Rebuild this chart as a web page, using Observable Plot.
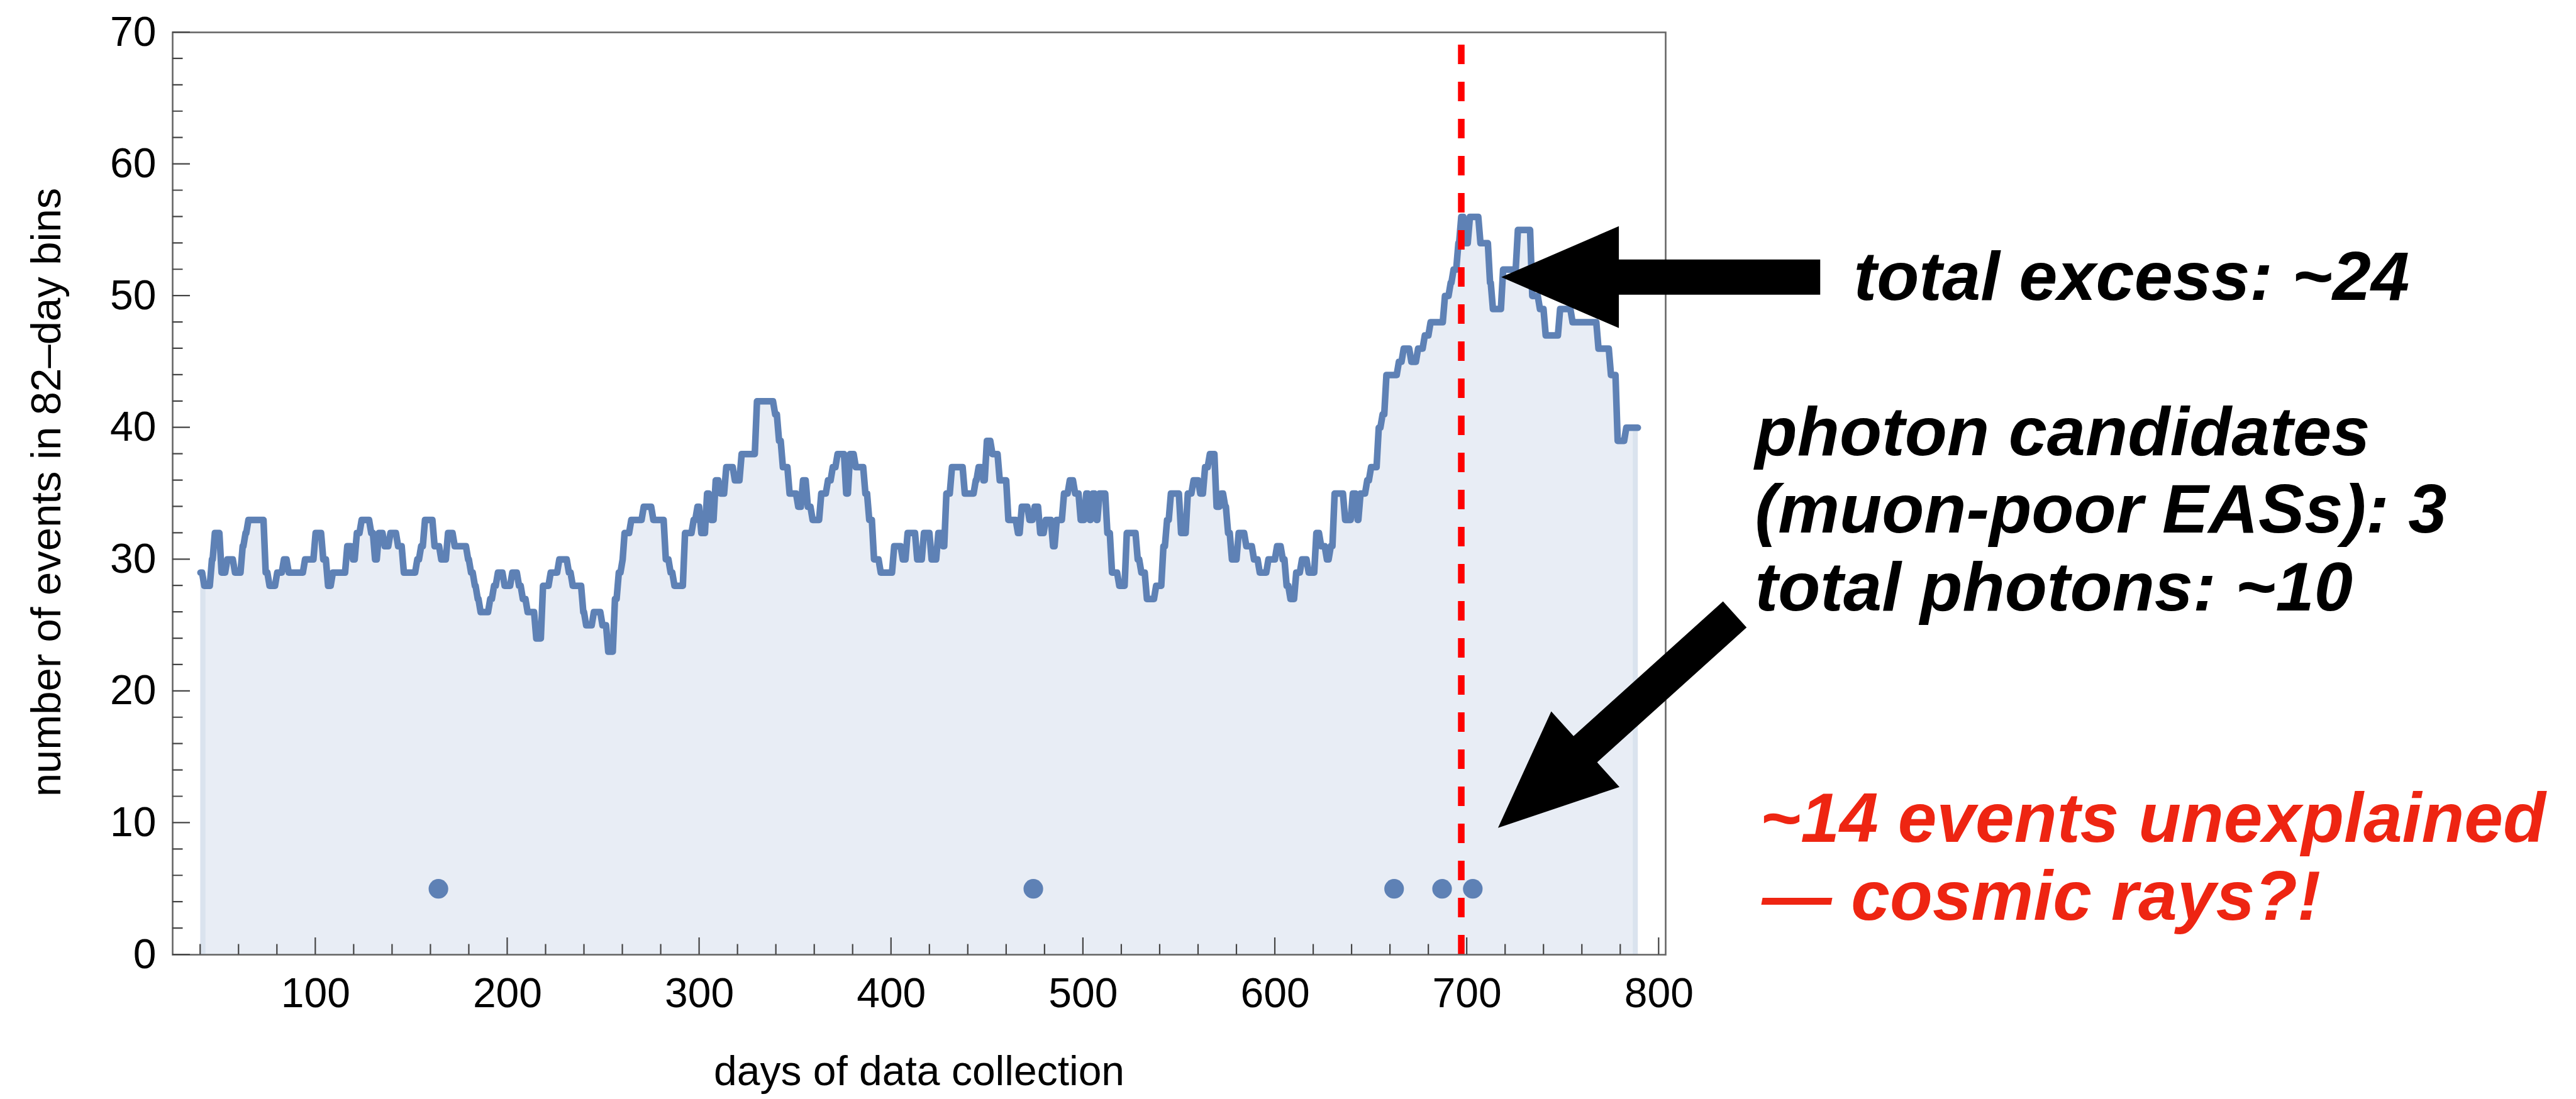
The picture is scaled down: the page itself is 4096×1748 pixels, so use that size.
<!DOCTYPE html>
<html>
<head>
<meta charset="utf-8">
<script src="https://cdn.jsdelivr.net/npm/d3@7"></script>
<script src="https://cdn.jsdelivr.net/npm/@observablehq/plot@0.6"></script>
<style>
  html, body { margin: 0; padding: 0; background: #fff; overflow: hidden; }
  #chart { width: 4096px; height: 1748px; }
</style>
</head>
<body>
<div id="chart"></div>
<script>
// ---------------- data ----------------
// start day of each run of the 82-day-bin event count, and the count during that run
const runDays = [
  40,42,46,47.5,51,54,58,62,63.5,65,74,76,80,83.5,86,94.5,100,104,106.5,109,116.5,119.5,121.5,124,129,131,133,136,139,143,146,153,155,157,
  162,165.5,169,172.5,179.5,181,183,184.5,186,191,193,195,198.5,202.5,206,208,210.5,215,218.5,222.5,227,232,234,239.5,241,245,249.5,252.5,256,258,260,261,264.5,271,276,282.5,285,287,
  292.5,297,299,301,304,306,308.5,311,314,318.5,322,330,339.5,341.5,343.5,347,351.5,354,356.5,359,363.5,367,369.5,372,376.5,378.5,381.5,386.5,388.5,391,394.5,401.5,406,408.5,413.5,417,
  421,424.5,427,428.7,431.6,438.3,444,445.5,448,449.8,452.7,456.5,461,466,468,472,474.7,477.6,480.5,484.3,486.2,490,493,495.8,498.7,501.6,503.5,505,507,508.5,512.6,515,518.8,522.7,528.4,530.3,533.2,538,541.8,543.7,545.7,
  551,554.5,557.5,561,563.5,566,569.5,572,574,575.5,577.5,581,585,589,592,596.5,601,604,606,608,611,614,617.5,621.5,624,627,629,631,636.5,640.5,643,644.5,648,650,654,656,658,664.5,667,671,674.5,678,681,688.5,691.5,693,695.5,697,699.2,701.5,707,712,713.5,718.8,726.5,734,738,741,748.5,755,768.5,775,778.5,783,789
];
const runCounts = [
  29,28,30,32,29,30,29,31,32,33,29,28,29,30,29,30,32,30,28,29,31,30,32,33,32,30,32,31,32,31,29,30,31,33,
  31,30,32,31,30,29,28,27,26,27,28,29,28,29,28,27,26,24,28,29,30,29,28,26,25,26,25,23,27,29,30,32,33,34,33,30,29,28,
  32,33,34,32,35,33,36,35,37,36,38,42,41,39,37,35,34,36,34,33,35,36,37,38,35,38,37,35,33,30,29,31,30,32,30,32,
  30,32,31,35,37,35,36,37,36,39,38,36,33,32,34,33,34,32,33,31,33,35,36,35,33,35,33,35,33,35,32,29,28,32,30,29,27,28,31,33,35,
  32,35,36,35,37,38,34,35,34,32,30,32,31,30,29,30,31,30,28,27,29,30,29,32,31,30,31,35,33,35,33,35,36,37,40,41,44,45,46,45,46,47,48,50,51,52,54,56,54,56,54,51,49,52,55,50,49,47,49,48,46,44,39,40,40
];
const photonDays = [164, 474, 662, 687, 703];
const photonLevel = 5;
const markerDay = 697;

const xTickValues = [100, 200, 300, 400, 500, 600, 700, 800];
const yTickValues = [0, 10, 20, 30, 40, 50, 60, 70];
const xMinorTicks = d3.range(40, 800, 20).filter(d => d % 100 !== 0);
const yMinorTicks = d3.range(2, 70, 2).filter(d => d % 10 !== 0);

const xLabel = "days of data collection";
const yLabel = "number of events in 82\u2013day bins";

// annotation arrows, anchored in data units (tip points at the data)
const arrowNotes = [
  {tailDay: 884.2, tailCount: 51.4, tipDay: 718.0, tipCount: 51.4},
  {tailDay: 839.7, tailCount: 25.8, tipDay: 716.3, tipCount: 9.6}
];
const blackNotes = ["total excess: ~24", "photon candidates", "(muon-poor EASs): 3", "total photons: ~10"];
const redNotes = ["~14 events unexplained", "\u2014 cosmic rays?!"];

// ---------------- layout ----------------
const W = 4096, H = 1748;
const frameLeft = 274, frameRight = 2648, frameTop = 51, frameBottom = 1518;
const BLUE = "#5E81B5";
const FONT = "'Liberation Sans', Arial, Helvetica, sans-serif";

const series = runDays.map((d, i) => ({day: d, n: runCounts[i]}));
const photons = photonDays.map(d => ({day: d, n: photonLevel}));

// step curve whose risers are slightly slanted (like a daily ListLinePlot)
function slantStep(context) {
  const SLANT = 3.5;
  let px, py, n = 0;
  return {
    areaStart() {}, areaEnd() {},
    lineStart() { n = 0; },
    lineEnd() {},
    point(x, y) {
      x = +x; y = +y;
      if (n++ === 0) context.moveTo(x, y);
      else {
        const xa = Math.max(px, x - SLANT);
        context.lineTo(xa, py);
        context.lineTo(x, y);
      }
      px = x; py = y;
    }
  };
}

function frameTicks(index, {x, y}, values, dims) {
  const bottom = dims.height - dims.marginBottom;
  const left = dims.marginLeft;
  const p = [];
  for (const t of xTickValues) p.push(`M${x(t)},${bottom}v-27`);
  for (const t of xMinorTicks) p.push(`M${x(t)},${bottom}v-16.5`);
  for (const t of yTickValues) p.push(`M${left},${y(t)}h28`);
  for (const t of yMinorTicks) p.push(`M${left},${y(t)}h16.5`);
  const g = d3.create("svg:g");
  g.append("path").attr("d", p.join("")).attr("stroke", "#444").attr("stroke-width", 2.2).attr("fill", "none");
  return g.node();
}

function arrowShapes(index, {x, y}) {
  const HEAD_LEN = 187, HEAD_HALF = 81, SHAFT_HALF = 28;
  const g = d3.create("svg:g").attr("fill", "#000");
  for (const a of arrowNotes) {
    const tx = x(a.tipDay), ty = y(a.tipCount), sx = x(a.tailDay), sy = y(a.tailCount);
    const L = Math.hypot(tx - sx, ty - sy);
    const ux = (tx - sx) / L, uy = (ty - sy) / L, nx = -uy, ny = ux;
    const bx = tx - ux * HEAD_LEN, by = ty - uy * HEAD_LEN;
    const pts = [
      [sx + nx * SHAFT_HALF, sy + ny * SHAFT_HALF],
      [bx + nx * SHAFT_HALF, by + ny * SHAFT_HALF],
      [bx + nx * HEAD_HALF, by + ny * HEAD_HALF],
      [tx, ty],
      [bx - nx * HEAD_HALF, by - ny * HEAD_HALF],
      [bx - nx * SHAFT_HALF, by - ny * SHAFT_HALF],
      [sx - nx * SHAFT_HALF, sy - ny * SHAFT_HALF]
    ];
    g.append("polygon").attr("points", pts.map(p => p.join(",")).join(" "));
  }
  return g.node();
}

const noteStyle = {frameAnchor: "top-right", textAnchor: "start", lineAnchor: "bottom",
  fontFamily: FONT, fontWeight: "bold", fontStyle: "italic", fontSize: 110, text: d => d};

const plot = Plot.plot({
  width: W, height: H,
  marginLeft: frameLeft, marginRight: W - frameRight, marginTop: frameTop, marginBottom: H - frameBottom,
  style: {fontFamily: FONT, fontSize: "66px", color: "#000", background: "#fff", overflow: "visible"},
  x: {domain: [25.5, 803.5], ticks: xTickValues, tickSize: 0, tickPadding: 37, label: null},
  y: {domain: [0, 70], ticks: yTickValues, tickSize: 0, tickPadding: 26, label: null},
  marks: [
    Plot.areaY(series, {x: "day", y: "n", curve: "step-after", fill: "#E8EDF5"}),
    Plot.ruleX([series[0]], {x: "day", y1: 0, y2: "n", stroke: "#DAE3EE", strokeWidth: 8, dx: 4}),
    Plot.ruleX([series[series.length - 1]], {x: "day", y1: 0, y2: "n", stroke: "#DAE3EE", strokeWidth: 8, dx: -4}),
    Plot.line(series, {x: "day", y: "n", curve: slantStep, stroke: BLUE, strokeWidth: 10.5, strokeLinejoin: "round"}),
    Plot.ruleX([markerDay], {x: d => d, y1: 0, y2: 70, stroke: "#FF0000", strokeWidth: 10.5, strokeDasharray: "31,28"}),
    Plot.dot(photons, {x: "day", y: "n", r: 15.6, fill: BLUE, stroke: "none"}),
    Plot.frame({stroke: "#666", strokeWidth: 2.6}),
    frameTicks,
    arrowShapes,
    Plot.text([xLabel], {frameAnchor: "bottom", textAnchor: "middle", lineAnchor: "bottom", dy: 207, fontSize: 66, fontFamily: FONT, text: d => d}),
    Plot.text([yLabel], {frameAnchor: "left", textAnchor: "middle", lineAnchor: "bottom", rotate: -90, dx: -179, dy: -2, fontSize: 67, fontFamily: FONT, text: d => d}),
    Plot.text([blackNotes[0]], {...noteStyle, dx: 299, dy: 425, fill: "#000"}),
    Plot.text([blackNotes[1]], {...noteStyle, dx: 142, dy: 672, fill: "#000"}),
    Plot.text([blackNotes[2]], {...noteStyle, dx: 142, dy: 795, fill: "#000"}),
    Plot.text([blackNotes[3]], {...noteStyle, dx: 142, dy: 919, fill: "#000"}),
    Plot.text([redNotes[0]], {...noteStyle, dx: 150, dy: 1287, fill: "#EE2512", fontSize: 111}),
    Plot.text([redNotes[1]], {...noteStyle, dx: 153, dy: 1411, fill: "#EE2512", fontSize: 111})
  ]
});
document.getElementById("chart").appendChild(plot);
</script>
</body>
</html>
